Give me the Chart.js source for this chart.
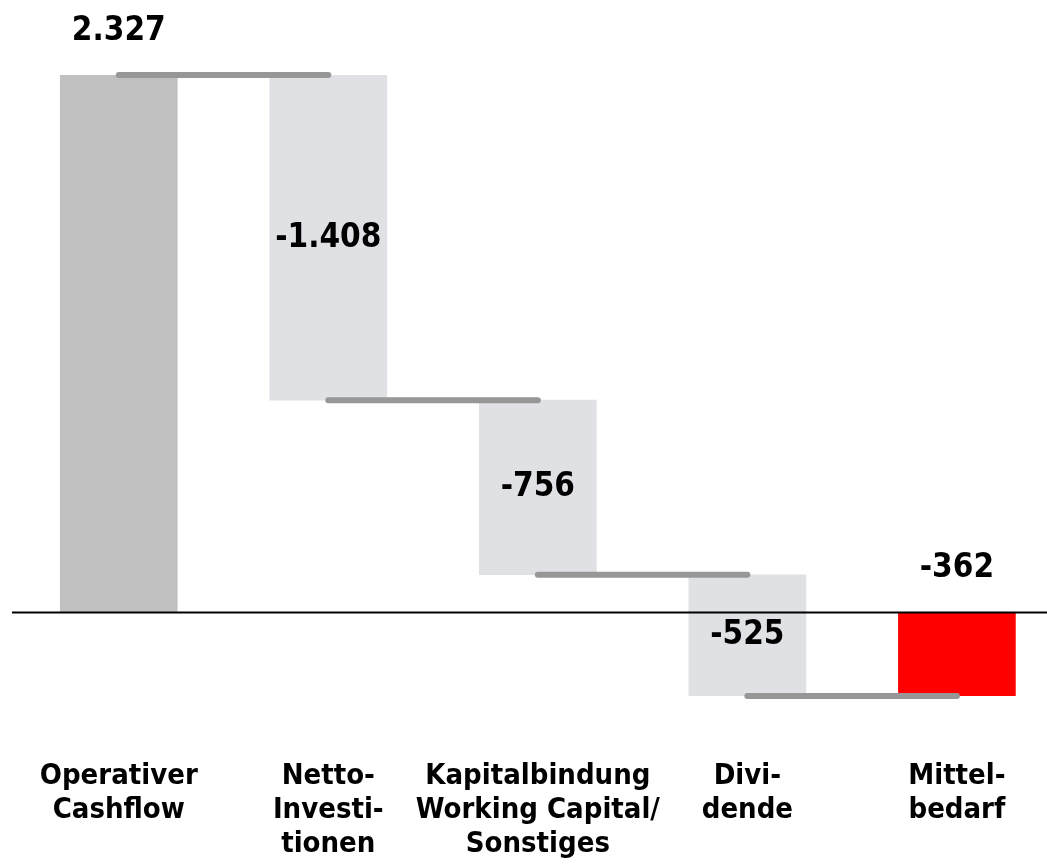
<!DOCTYPE html>
<html>
<head>
<meta charset="utf-8">
<script src="https://cdn.jsdelivr.net/npm/chart.js@4.4.0/dist/chart.umd.min.js"></script>
<style>
  html, body { margin: 0; padding: 0; background: #fff; overflow: hidden; }
</style>
</head>
<body>
<canvas id="chart" width="1047" height="867"></canvas>
<script>
// categories and values (Mio. EUR)
var categories = [
  ["Operativer", "Cashflow"],
  ["Netto-", "Investi-", "tionen"],
  ["Kapitalbindung", "Working Capital/", "Sonstiges"],
  ["Divi-", "dende"],
  ["Mittel-", "bedarf"]
];
var changes = [2327, -1408, -756, -525];
var valueLabels = ["2.327", "-1.408", "-756", "-525", "-362"];
var barColors = ["#c0c0c0", "#dfe1e5", "#dfe1e5", "#dfe1e5", "#ff0000"];

// build floating bars + connectors from the changes
var bars = [];
var connectors = [];
var level = 0;
changes.forEach(function (c, i) {
  var start = i === 0 ? 0 : level;
  level = level + c;
  bars.push({ x: i, y: [start, level] });
  connectors.push({ x: i, y: level }, { x: i + 1, y: level }, { x: i + 0.5, y: null });
});
bars.push({ x: 4, y: [0, level] });

var labelPlugin = {
  id: 'valueLabels',
  afterDatasetsDraw: function (chart) {
    var ctx = chart.ctx;
    var meta = chart.getDatasetMeta(1);
    ctx.save();
    ctx.font = 'bold 33px "DejaVu Sans Condensed", "DejaVu Sans"';
    ctx.fillStyle = '#000';
    ctx.textAlign = 'center';
    ctx.textBaseline = 'alphabetic';
    meta.data.forEach(function (bar, i) {
      var top = Math.min(bar.y, bar.base);
      var bottom = Math.max(bar.y, bar.base);
      var mid;
      if (i === 0 || i === 4) {
        mid = top - 47;
      } else {
        mid = (top + bottom) / 2 - 3;
      }
      ctx.fillText(valueLabels[i], bar.x, mid + 12);
    });
    ctx.restore();
  }
};

var zeroLine = {
  id: 'zeroLine',
  afterDatasetsDraw: function (chart) {
    var ctx = chart.ctx;
    var y = chart.scales.y.getPixelForValue(0);
    ctx.save();
    ctx.strokeStyle = '#000';
    ctx.lineWidth = 2;
    ctx.beginPath();
    ctx.moveTo(12, y);
    ctx.lineTo(chart.width, y);
    ctx.stroke();
    ctx.restore();
  }
};

new Chart(document.getElementById('chart'), {
  data: {
    datasets: [
      {
        type: 'line',
        data: connectors,
        borderColor: '#979797',
        borderWidth: 6,
        borderCapStyle: 'round',
        pointRadius: 0,
        spanGaps: false,
        clip: false,
        order: 0
      },
      {
        type: 'bar',
        data: bars,
        backgroundColor: barColors,
        barThickness: 117,
        order: 1
      }
    ]
  },
  options: {
    responsive: false,
    animation: false,
    devicePixelRatio: 1,
    layout: { padding: { left: 14, right: 0, top: 75, bottom: 0 } },
    plugins: { legend: { display: false }, tooltip: { enabled: false } },
    scales: {
      x: {
        type: 'linear',
        offset: false,
        min: -0.5,
        max: 4.43,
        afterBuildTicks: function (axis) {
          axis.ticks = [0, 1, 2, 3, 4].map(function (v) { return { value: v }; });
        },
        afterFit: function (axis) {
          axis.paddingLeft = 0;
          axis.paddingRight = 0;
          axis.height = 171;
        },
        grid: { display: false, drawTicks: false },
        border: { display: false },
        ticks: {
          autoSkip: false,
          maxRotation: 0,
          padding: 63,
          color: '#000',
          font: { family: '"DejaVu Sans Condensed", "DejaVu Sans"', weight: 'bold', size: 29, lineHeight: 34 / 29 },
          callback: function (v) { return categories[v]; }
        }
      },
      y: {
        min: -362,
        max: 2327,
        display: false
      }
    }
  },
  plugins: [labelPlugin, zeroLine]
});
</script>
</body>
</html>
